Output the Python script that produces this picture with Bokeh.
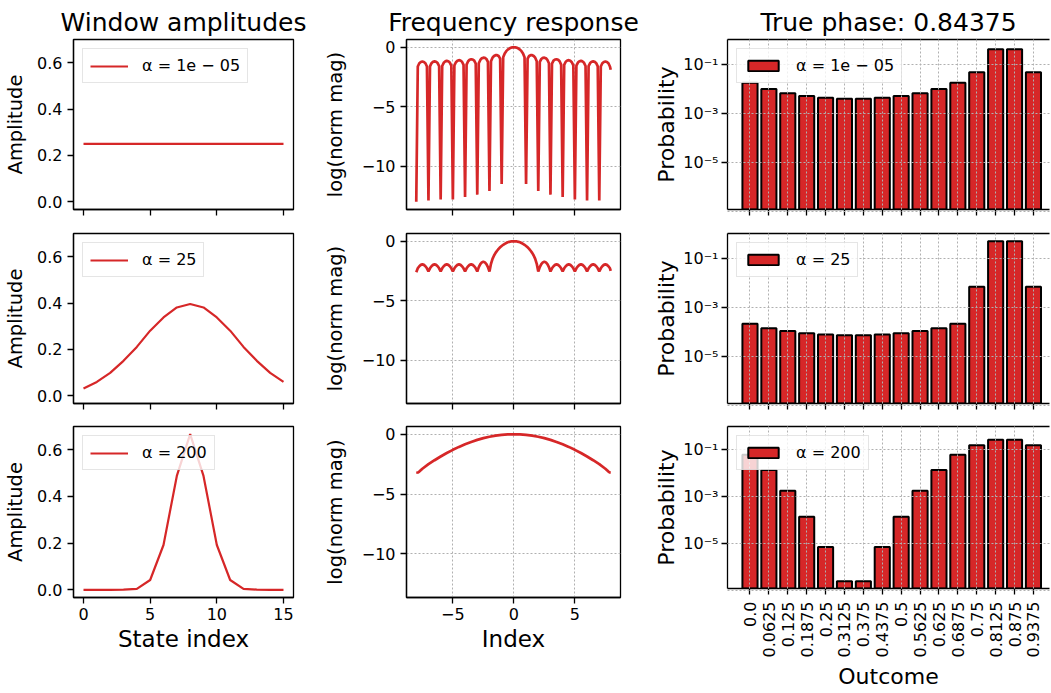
import math
from bokeh.plotting import figure
from bokeh.layouts import row, column
from bokeh.models import (FixedTicker, CustomJSTickFormatter, PrintfTickFormatter,
                          Range1d, LinearAxis)
from bokeh.embed import file_html
from bokeh.resources import INLINE

FONT = "DejaVu Sans"
RED = "#d62728"

# ---------------- data ----------------
col_titles = ["Window amplitudes", "Frequency response", "True phase: 0.84375"]
alpha_labels = ["α = 1e − 05", "α = 25", "α = 200"]

state_index = [0, 1, 2, 3, 4, 5, 6, 7, 8, 9, 10, 11, 12, 13, 14, 15]
amp_a1 = [0.25, 0.25, 0.25, 0.25, 0.25, 0.25, 0.25, 0.25,
          0.25, 0.25, 0.25, 0.25, 0.25, 0.25, 0.25, 0.25]
amp_a25 = [0.032, 0.060, 0.099, 0.151, 0.211, 0.281, 0.338, 0.381,
           0.396, 0.381, 0.338, 0.281, 0.211, 0.151, 0.099, 0.060]
amp_a200 = [0.0, 0.0, 0.0001, 0.0008, 0.004, 0.042, 0.192, 0.488,
            0.667, 0.488, 0.192, 0.042, 0.004, 0.0008, 0.0001, 0.0]

freq_x_fine = [
    -8.0, -7.875, -7.75, -7.625, -7.5, -7.375, -7.25, -7.125,
    -7.0, -6.875, -6.75, -6.625, -6.5, -6.375, -6.25, -6.125,
    -6.0, -5.875, -5.75, -5.625, -5.5, -5.375, -5.25, -5.125,
    -5.0, -4.875, -4.75, -4.625, -4.5, -4.375, -4.25, -4.125,
    -4.0, -3.875, -3.75, -3.625, -3.5, -3.375, -3.25, -3.125,
    -3.0, -2.875, -2.75, -2.625, -2.5, -2.375, -2.25, -2.125,
    -2.0, -1.875, -1.75, -1.625, -1.5, -1.375, -1.25, -1.125,
    -1.0, -0.875, -0.75, -0.625, -0.5, -0.375, -0.25, -0.125,
    0.0, 0.125, 0.25, 0.375, 0.5, 0.625, 0.75, 0.875,
    1.0, 1.125, 1.25, 1.375, 1.5, 1.625, 1.75, 1.875,
    2.0, 2.125, 2.25, 2.375, 2.5, 2.625, 2.75, 2.875,
    3.0, 3.125, 3.25, 3.375, 3.5, 3.625, 3.75, 3.875,
    4.0, 4.125, 4.25, 4.375, 4.5, 4.625, 4.75, 4.875,
    5.0, 5.125, 5.25, 5.375, 5.5, 5.625, 5.75, 5.875,
    6.0, 6.125, 6.25, 6.375, 6.5, 6.625, 6.75, 6.875,
    7.0, 7.125, 7.25, 7.375, 7.5, 7.625, 7.75, 7.875,
    7.9375]

freq_a1 = [
    -13.0, -1.62, -1.35, -1.24, -1.20, -1.24, -1.35, -1.62,
    -12.9, -1.61, -1.34, -1.22, -1.19, -1.22, -1.33, -1.59,
    -12.8, -1.58, -1.31, -1.19, -1.15, -1.18, -1.29, -1.55,
    -12.8, -1.53, -1.26, -1.14, -1.09, -1.12, -1.22, -1.48,
    -12.6, -1.46, -1.18, -1.05, -1.01, -1.03, -1.13, -1.38,
    -12.4, -1.35, -1.07, -0.93, -0.88, -0.89, -0.99, -1.23,
    -12.1, -1.18, -0.88, -0.74, -0.67, -0.67, -0.74, -0.96,
    -11.5, -0.85, -0.52, -0.33, -0.20, -0.11, -0.05, -0.01,
    0.0, -0.01, -0.05, -0.11, -0.20, -0.33, -0.52, -0.85,
    -11.5, -0.96, -0.74, -0.67, -0.67, -0.74, -0.88, -1.18,
    -12.1, -1.23, -0.99, -0.89, -0.88, -0.93, -1.07, -1.35,
    -12.4, -1.38, -1.13, -1.03, -1.01, -1.05, -1.18, -1.46,
    -12.6, -1.48, -1.22, -1.12, -1.09, -1.14, -1.26, -1.53,
    -12.8, -1.55, -1.29, -1.18, -1.15, -1.19, -1.31, -1.58,
    -12.9, -1.59, -1.33, -1.22, -1.19, -1.22, -1.34, -1.61,
    -12.9, -1.62, -1.35, -1.24, -1.20, -1.24, -1.35, -1.62,
    -1.90]

freq_a25 = [
    -2.60, -2.28, -2.10, -1.99, -1.95, -1.99, -2.10, -2.28,
    -2.55, -2.28, -2.10, -1.99, -1.95, -1.99, -2.10, -2.28,
    -2.55, -2.28, -2.10, -1.99, -1.95, -1.99, -2.10, -2.28,
    -2.55, -2.28, -2.10, -1.99, -1.95, -1.99, -2.10, -2.28,
    -2.55, -2.28, -2.10, -1.99, -1.95, -1.99, -2.10, -2.28,
    -2.55, -2.18, -1.93, -1.78, -1.72, -1.78, -1.93, -2.18,
    -2.55, -1.90, -1.48, -1.20, -0.98, -0.80, -0.64, -0.51,
    -0.40, -0.30, -0.22, -0.15, -0.09, -0.05, -0.02, -0.01,
    0.0, -0.01, -0.02, -0.05, -0.09, -0.15, -0.22, -0.30,
    -0.40, -0.51, -0.64, -0.80, -0.98, -1.20, -1.48, -1.90,
    -2.55, -2.18, -1.93, -1.78, -1.72, -1.78, -1.93, -2.18,
    -2.55, -2.28, -2.10, -1.99, -1.95, -1.99, -2.10, -2.28,
    -2.55, -2.28, -2.10, -1.99, -1.95, -1.99, -2.10, -2.28,
    -2.55, -2.28, -2.10, -1.99, -1.95, -1.99, -2.10, -2.28,
    -2.55, -2.28, -2.10, -1.99, -1.95, -1.99, -2.10, -2.28,
    -2.55, -2.28, -2.10, -1.99, -1.95, -1.99, -2.10, -2.28,
    -2.50]

freq_x_coarse = [-8.0, -7.875, -7.75, -7.5, -7.0, -6.5, -6.0, -5.5, -5.0, -4.5,
                 -4.0, -3.5, -3.0, -2.5, -2.0, -1.5, -1.0, -0.5, 0.0, 0.5,
                 1.0, 1.5, 2.0, 2.5, 3.0, 3.5, 4.0, 4.5, 5.0, 5.5,
                 6.0, 6.5, 7.0, 7.5, 7.75, 7.875, 7.9375]
freq_a200 = [-3.22, -3.20, -3.12, -2.88, -2.50, -2.17, -1.86, -1.57, -1.30, -1.055,
             -0.835, -0.64, -0.47, -0.325, -0.208, -0.117, -0.052, -0.013, 0.0, -0.013,
             -0.052, -0.117, -0.208, -0.325, -0.47, -0.64, -0.835, -1.055, -1.30, -1.57,
             -1.86, -2.17, -2.50, -2.88, -3.12, -3.20, -3.21]

outcomes = ["0.0", "0.0625", "0.125", "0.1875", "0.25", "0.3125", "0.375", "0.4375",
            "0.5", "0.5625", "0.625", "0.6875", "0.75", "0.8125", "0.875", "0.9375"]
prob_a1 = [0.0176, 0.0097, 0.0065, 0.0050, 0.0043, 0.0039, 0.0039, 0.0043,
           0.0050, 0.0065, 0.0097, 0.0176, 0.0464, 0.4066, 0.4066, 0.0464]
prob_a25 = [2.1e-4, 1.38e-4, 1.07e-4, 8.7e-5, 7.6e-5, 7.1e-5, 7.1e-5, 7.6e-5,
            8.7e-5, 1.07e-4, 1.38e-4, 2.1e-4, 6.8e-3, 0.49, 0.49, 6.8e-3]
prob_a200 = [0.062, 0.0138, 1.8e-3, 1.38e-4, 7.1e-6, 2.4e-7, 2.4e-7, 7.1e-6,
             1.38e-4, 1.8e-3, 0.0138, 0.062, 0.158, 0.272, 0.272, 0.158]

amps = [amp_a1, amp_a25, amp_a200]
freqs = [(freq_x_fine, freq_a1), (freq_x_fine, freq_a25), (freq_x_coarse, freq_a200)]
probs = [prob_a1, prob_a25, prob_a200]

# ---------------- layout ----------------
col_w = [320, 319, 411]
row_h = [221, 193, 278]
b_left = [73, 80, 88]
b_right = [27, 19, 1]
b_top = [39, 12, 12]
b_bottom = [12, 11, 95]

x_lims = [(-0.75, 15.75), (-8.8, 8.74), (-1.19, 15.85)]
y_lims = [(-0.033, 0.70), (-13.65, 0.65), (10 ** -6.93, 10 ** 0.005)]

sup_fmt = CustomJSTickFormatter(code="""
const sup = {"-": "\u207b", "0": "\u2070", "1": "\u00b9", "2": "\u00b2", "3": "\u00b3",
             "4": "\u2074", "5": "\u2075", "6": "\u2076", "7": "\u2077", "8": "\u2078", "9": "\u2079"};
const e = Math.round(Math.log10(tick));
return "10" + String(e).split("").map(c => sup[c]).join("");
""")


def style_axis(ax):
    ax.axis_line_color = "black"
    ax.axis_line_width = 1.3
    ax.major_tick_line_color = "black"
    ax.major_tick_line_width = 1.3
    ax.major_tick_out = 6
    ax.major_tick_in = 0
    ax.minor_tick_line_color = None
    ax.major_label_text_font = FONT
    ax.major_label_text_font_size = "16px"
    ax.major_label_text_color = "black"
    ax.major_label_standoff = 5
    ax.axis_label_text_font = FONT
    ax.axis_label_text_font_style = "normal"
    ax.axis_label_text_color = "black"


def style_legend(p, bar=False):
    lg = p.legend[0]
    lg.location = "top_left"
    lg.margin = 9
    lg.padding = 7
    lg.spacing = 0
    lg.label_text_font = FONT
    lg.label_text_font_size = "16px"
    lg.label_text_color = "black"
    lg.label_standoff = 14
    lg.label_height = 18
    lg.glyph_width = 38
    lg.glyph_height = 13 if bar else 18
    lg.border_line_color = "#cccccc"
    lg.border_line_width = 1
    lg.background_fill_color = "white"
    lg.background_fill_alpha = 0.8


def make_fig(r, c):
    p = figure(width=col_w[c], height=row_h[r],
               x_range=Range1d(*x_lims[c]), y_range=Range1d(*y_lims[c]),
               y_axis_type=("log" if c == 2 else "linear"),
               output_backend="svg", toolbar_location=None,
               min_border_left=b_left[c], min_border_right=b_right[c],
               min_border_top=b_top[r], min_border_bottom=b_bottom[r])
    p.background_fill_color = "white"
    p.border_fill_color = "white"
    p.outline_line_color = "black"
    p.outline_line_width = 1.3
    for ax in p.axis:
        style_axis(ax)
    if r == 0:
        p.title.text = col_titles[c]
        p.title.align = "center"
        p.title.text_font = FONT
        p.title.text_font_size = "25px"
        p.title.text_font_style = "normal"
        p.title.text_color = "black"
        p.title.standoff = 5
    bx = p.below[0]
    if r < 2:
        bx.major_label_text_color = None
        bx.major_label_standoff = 0
    return p


figs = [[None] * 3 for _ in range(3)]
for r in range(3):
    # column 1: window amplitudes
    p = make_fig(r, 0)
    p.line(state_index, amps[r], line_color=RED, line_width=2.2, legend_label=alpha_labels[r])
    bx, ly = p.below[0], p.left[0]
    bx.ticker = FixedTicker(ticks=[0, 5, 10, 15])
    ly.ticker = FixedTicker(ticks=[0.0, 0.2, 0.4, 0.6])
    ly.formatter = PrintfTickFormatter(format="%.1f")
    ly.axis_label = "Amplitude"
    ly.axis_label_text_font_size = "19.5px"
    ly.axis_label_standoff = 7
    p.grid.visible = False
    if r == 2:
        bx.major_label_standoff = 4
        bx.axis_label = "State index"
        bx.axis_label_text_font_size = "23px"
        bx.axis_label_standoff = 3
    style_legend(p)
    figs[r][0] = p

    # column 2: frequency response
    p = make_fig(r, 1)
    fx, fy = freqs[r]
    p.line(fx, fy, line_color=RED, line_width=2.7)
    bx, ly = p.below[0], p.left[0]
    xt = FixedTicker(ticks=[-5, 0, 5])
    yt = FixedTicker(ticks=[-10, -5, 0])
    bx.ticker = xt
    ly.ticker = yt
    p.xgrid.ticker = xt
    p.ygrid.ticker = yt
    bx.major_label_overrides = {-5: "\u22125", 0: "0", 5: "5"}
    ly.major_label_overrides = {-10: "\u221210", -5: "\u22125", 0: "0"}
    ly.axis_label = "log(norm mag)"
    ly.axis_label_text_font_size = "19.5px"
    ly.axis_label_standoff = 12
    for g in p.grid:
        g.grid_line_color = "#b0b0b0"
        g.grid_line_dash = "2 2"
        g.grid_line_width = 1
    if r == 2:
        bx.major_label_standoff = 4
        bx.axis_label = "Index"
        bx.axis_label_text_font_size = "23px"
        bx.axis_label_standoff = 3
    figs[r][1] = p

    # column 3: outcome probabilities
    p = make_fig(r, 2)
    p.outline_line_color = None
    p.vbar(x=state_index, top=probs[r], bottom=1e-9, width=0.8,
           fill_color=RED, line_color="black", line_width=2,
           legend_label=alpha_labels[r])
    bx, ly = p.below[0], p.left[0]
    xt = FixedTicker(ticks=state_index)
    yt = FixedTicker(ticks=[1e-7, 1e-5, 1e-3, 1e-1])
    bx.ticker = xt
    ly.ticker = yt
    p.xgrid.ticker = xt
    p.ygrid.ticker = yt
    ly.formatter = sup_fmt
    ly.major_label_text_font_size = "16px"
    ly.major_label_standoff = 3
    bx.major_label_overrides = {i: s for i, s in zip(state_index, outcomes)}
    ly.axis_label = "Probability"
    ly.axis_label_text_font_size = "22px"
    ly.axis_label_standoff = 1
    for g in p.grid:
        g.grid_line_color = "#b0b0b0"
        g.grid_line_dash = "2 2"
        g.grid_line_width = 1
        g.level = "annotation"
    if r == 2:
        bx.major_label_orientation = math.pi / 2
        bx.major_label_standoff = 7
        bx.axis_label = "Outcome"
        bx.axis_label_text_font_size = "22px"
        bx.axis_label_standoff = 4
    top_ax = LinearAxis(ticker=FixedTicker(ticks=[]), major_label_text_color=None,
                        major_label_standoff=0, axis_line_color="black", axis_line_width=1.3,
                        major_tick_line_color=None, minor_tick_line_color=None)
    p.add_layout(top_ax, "above")
    style_legend(p, bar=True)
    figs[r][2] = p

layout = row(*[column(*[figs[r][c] for r in range(3)]) for c in range(3)])

open("out.html", "w").write(file_html(layout, INLINE))
